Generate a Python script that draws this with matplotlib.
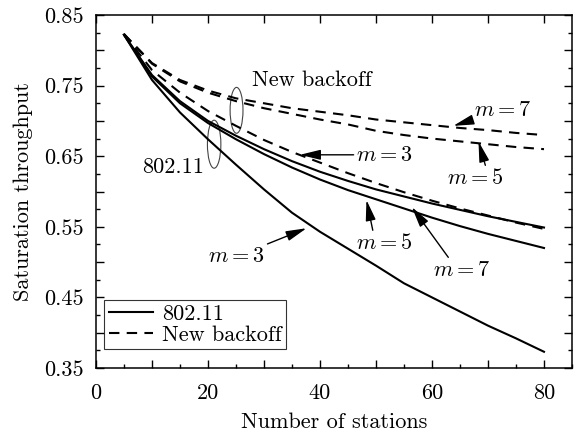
import matplotlib
matplotlib.use("Agg")
import matplotlib.pyplot as plt
from matplotlib.patches import Ellipse
from matplotlib.ticker import MultipleLocator, FuncFormatter

plt.rcParams['font.family'] = ['cmr10', 'DejaVu Serif']
plt.rcParams['mathtext.fontset'] = 'cm'
plt.rcParams['axes.unicode_minus'] = False
plt.rcParams['axes.formatter.use_mathtext'] = True

# number of stations
stations = [5, 10, 15, 20, 25, 30, 35, 40, 45, 50, 55, 60, 65, 70, 75, 80]

# 802.11 (solid)
std_m3 = [0.822, 0.758, 0.712, 0.674, 0.638, 0.603, 0.570, 0.543,
          0.519, 0.495, 0.470, 0.450, 0.430, 0.410, 0.392, 0.373]
std_m5 = [0.822, 0.763, 0.725, 0.697, 0.674, 0.653, 0.634, 0.617,
          0.602, 0.589, 0.576, 0.563, 0.551, 0.540, 0.530, 0.520]
std_m7 = [0.822, 0.765, 0.728, 0.700, 0.679, 0.660, 0.643, 0.628,
          0.615, 0.603, 0.593, 0.583, 0.574, 0.565, 0.557, 0.549]

# new backoff (dashed)
new_m3 = [0.823, 0.772, 0.740, 0.714, 0.693, 0.673, 0.656, 0.641,
          0.626, 0.612, 0.599, 0.587, 0.576, 0.566, 0.556, 0.547]
new_m5 = [0.823, 0.781, 0.756, 0.740, 0.728, 0.718, 0.710, 0.702,
          0.695, 0.686, 0.680, 0.675, 0.671, 0.667, 0.663, 0.660]
new_m7 = [0.823, 0.782, 0.758, 0.743, 0.732, 0.725, 0.718, 0.713,
          0.708, 0.702, 0.698, 0.694, 0.690, 0.687, 0.683, 0.680]

fs = 16

fig = plt.figure(figsize=(5.81, 4.33), dpi=100)
ax = fig.add_axes([0.1652, 0.1501, 0.8193, 0.8152])

lw = 1.5
dash = (0, (5, 3.5))
l1, = ax.plot(stations, std_m3, 'k-', lw=lw)
ax.plot(stations, std_m5, 'k-', lw=lw)
ax.plot(stations, std_m7, 'k-', lw=lw)
l2, = ax.plot(stations, new_m3, color='k', ls=dash, lw=lw)
ax.plot(stations, new_m5, color='k', ls=dash, lw=lw)
ax.plot(stations, new_m7, color='k', ls=dash, lw=lw)

ax.set_xlim(0, 85)
ax.set_ylim(0.35, 0.85)

ax.xaxis.set_major_locator(MultipleLocator(10))
ax.xaxis.set_minor_locator(MultipleLocator(5))
ax.xaxis.set_major_formatter(FuncFormatter(
    lambda v, p: '%d' % v if round(v) % 20 == 0 else ''))
ax.yaxis.set_major_locator(MultipleLocator(0.05))
ax.yaxis.set_minor_locator(MultipleLocator(0.025))
ax.yaxis.set_major_formatter(FuncFormatter(
    lambda v, p: '%.2f' % v if round(v * 100) % 10 == 5 else ''))
ax.tick_params(which='both', direction='in', top=True, right=True,
               labelsize=fs, width=1)
ax.tick_params(which='major', length=6)
ax.tick_params(which='minor', length=3)
ax.tick_params(which='minor', top=False)
ax.tick_params(axis='x', which='major', pad=11)
ax.tick_params(axis='y', which='major', pad=9)
for s in ax.spines.values():
    s.set_linewidth(1.1)

ax.set_xlabel('Number of stations', fontsize=fs, labelpad=7)
ax.set_ylabel('Saturation throughput', fontsize=fs, labelpad=8)

# group labels with ellipses
ax.add_patch(Ellipse((25.1, 0.715), 2.3, 0.065, fill=False, ec='#444', lw=0.8))
ax.text(27.9, 0.758, 'New backoff', fontsize=fs, va='center', ha='left')
ax.add_patch(Ellipse((21.1, 0.667), 2.4, 0.068, fill=False, ec='#444', lw=0.8))
ax.text(19.3, 0.635, '802.11', fontsize=fs, va='center', ha='right')

arrow = dict(arrowstyle='-|>,head_length=0.7,head_width=0.17', color='k',
             lw=1, mutation_scale=18, shrinkA=0, shrinkB=0)
# new backoff labels
ax.annotate(r'$m=7$', xy=(63.8, 0.693), xytext=(67.5, 0.715),
            fontsize=fs, va='center', ha='left', arrowprops=arrow)
ax.annotate(r'$m=5$', xy=(68.3, 0.671), xytext=(62.6, 0.619),
            fontsize=fs, va='center', ha='left',
            arrowprops=dict(arrow, relpos=(0.7, 1.0)))
ax.annotate(r'$m=3$', xy=(36.4, 0.652), xytext=(46.5, 0.652),
            fontsize=fs, va='center', ha='left', arrowprops=arrow)
# 802.11 labels
ax.annotate(r'$m=3$', xy=(37.6, 0.548), xytext=(20.0, 0.508),
            fontsize=fs, va='center', ha='left', arrowprops=arrow)
ax.annotate(r'$m=5$', xy=(48.3, 0.588), xytext=(46.5, 0.527),
            fontsize=fs, va='center', ha='left',
            arrowprops=dict(arrow, relpos=(0.3, 1.0)))
ax.annotate(r'$m=7$', xy=(56.4, 0.578), xytext=(60.2, 0.489),
            fontsize=fs, va='center', ha='left',
            arrowprops=dict(arrow, relpos=(0.3, 1.0)))

leg = ax.legend([l1, l2], ['802.11', 'New backoff'], loc='lower left',
                bbox_to_anchor=(0.017, 0.054), fontsize=fs, frameon=True,
                fancybox=False, edgecolor='k', handlelength=2.0,
                handletextpad=0.4, borderpad=0.2, labelspacing=0.05,
                borderaxespad=0)
leg.get_frame().set_linewidth(0.8)

fig.savefig('out.png', dpi=100)
